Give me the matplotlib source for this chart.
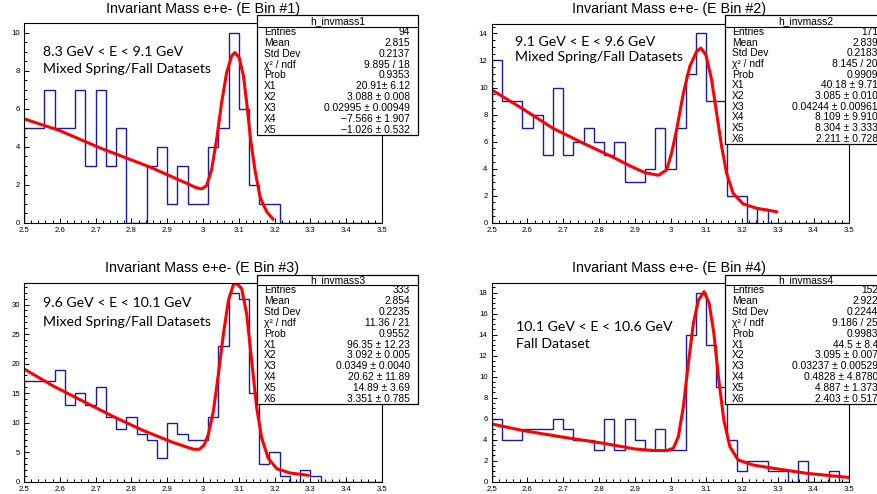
"""
Invariant mass e+e- spectra in four energy bins, ROOT-style panels with fit and stat boxes.
"""

import matplotlib
matplotlib.use("Agg")
import matplotlib.pyplot as plt
from matplotlib.patches import Rectangle
from matplotlib.lines import Line2D
from matplotlib.ticker import MultipleLocator
import numpy as np

W, H = 878, 494

# binning of the histograms (35 bins between 2.5 and 3.5)
bin_lo, bin_hi, n_bins = 2.5, 3.5, 35

titles = ["Invariant Mass e+e- (E Bin #1)", "Invariant Mass e+e- (E Bin #2)",
          "Invariant Mass e+e- (E Bin #3)", "Invariant Mass e+e- (E Bin #4)"]

energy_labels = ["8.3 GeV < E < 9.1 GeV", "9.1 GeV < E < 9.6 GeV",
                 "9.6 GeV < E < 10.1 GeV", "10.1 GeV < E < 10.6 GeV"]
dataset_labels = ["Mixed Spring/Fall Datasets", "Mixed Spring/Fall Datasets",
                  "Mixed Spring/Fall Datasets", "Fall Dataset"]

# bin contents
counts1 = [5, 5, 7, 5, 5, 7, 3, 7, 3, 5, 0, 0, 3, 4, 1, 3, 1, 1, 4, 5, 10, 6, 2, 1, 1,
           0, 0, 0, 0, 0, 0, 0, 0, 0, 0]
counts2 = [12, 9, 9, 7, 8, 5, 10, 5, 6, 7, 6, 5, 6, 3, 3, 4, 7, 4, 7, 11, 14, 9, 9, 2, 2,
           0, 1, 0, 0, 0, 0, 0, 0, 0, 0]
counts3 = [17, 17, 17, 19, 13, 15, 13, 16, 11, 9, 11, 8, 7, 4, 10, 8, 7, 7, 11, 23, 32, 31, 15, 3, 5,
           1, 0, 2, 1, 0, 0, 0, 0, 0, 0]
counts4 = [6, 4, 4, 5, 5, 5, 6, 5, 4, 4, 3, 6, 3, 6, 4, 3, 5, 3, 3, 14, 18, 13, 9, 4, 1,
           2, 2, 1, 1, 0, 2, 0, 0, 1, 0]

# fit curves
fit1_x = [2.5, 2.6, 2.712, 2.852, 2.954, 2.98, 2.996, 3.010, 3.024, 3.038, 3.052, 3.066, 3.080,
          3.089, 3.101, 3.113, 3.122, 3.133, 3.145, 3.159, 3.17, 3.178, 3.196]
fit1_y = [5.47, 4.85, 3.94, 2.93, 2.08, 1.85, 1.78, 1.95, 2.79, 4.38, 6.32, 7.9, 8.78,
          8.96, 8.7, 7.73, 6.32, 4.38, 2.79, 1.38, 0.9, 0.58, 0.18]

fit2_x = [2.5, 2.584, 2.671, 2.756, 2.840, 2.887, 2.929, 2.966, 2.989, 3.003, 3.017, 3.036, 3.054,
          3.073, 3.085, 3.099, 3.115, 3.129, 3.143, 3.157, 3.175, 3.203, 3.241, 3.297]
fit2_y = [9.83, 8.47, 6.99, 5.88, 4.84, 4.2, 3.70, 3.51, 3.90, 5.14, 6.87, 9.59, 11.56,
          12.67, 12.92, 12.42, 10.57, 8.10, 5.63, 3.66, 2.18, 1.39, 1.07, 0.81]

fit3_x = [2.5, 2.582, 2.666, 2.749, 2.833, 2.917, 2.973, 2.990, 3.003, 3.015, 3.029, 3.043, 3.057,
          3.071, 3.085, 3.094, 3.108, 3.122, 3.136, 3.150, 3.164, 3.182, 3.206, 3.243, 3.294]
fit3_y = [19.1, 16.2, 13.6, 11.05, 8.67, 6.63, 5.5, 5.5, 6.2, 8.0, 11.97, 18.2, 25.0,
          30.7, 33.4, 33.6, 32.7, 28.4, 20.5, 12.5, 7.4, 4.0, 2.2, 1.48, 1.08]

fit4_x = [2.5, 2.588, 2.700, 2.812, 2.9, 2.95, 2.989, 3.008, 3.022, 3.036, 3.050, 3.064, 3.078,
          3.094, 3.108, 3.121, 3.135, 3.149, 3.166, 3.189, 3.231, 3.287, 3.381, 3.5]
fit4_y = [5.5, 4.87, 4.24, 3.66, 3.12, 2.98, 2.96, 3.19, 4.3, 7.16, 11.3, 15.1, 17.3,
          18.1, 17.0, 14.2, 9.7, 5.9, 3.34, 2.07, 1.59, 1.28, 0.8, 0.4]

# stat box contents
stat_names = ["h_invmass1", "h_invmass2", "h_invmass3", "h_invmass4"]
stat_labels1 = ["Entries", "Mean", "Std Dev", "χ² / ndf", "Prob", "X1", "X2", "X3", "X4", "X5"]
stat_labels2 = ["Entries", "Mean", "Std Dev", "χ² / ndf", "Prob", "X1", "X2", "X3", "X4", "X5", "X6"]
stat_values1 = ["94", "2.815", "0.2137", "9.895 / 18", "0.9353", "20.91± 6.12", "3.088 ± 0.008",
                "0.02995 ± 0.00949", "\u22127.566 ± 1.907", "\u22121.026 ± 0.532"]
stat_values2 = ["171", "2.839", "0.2183", "8.145 / 20", "0.9909", "40.18 ± 9.71", "3.085 ± 0.010",
                "0.04244 ± 0.00961", "8.109 ± 9.910", "8.304 ± 3.333", "2.211 ± 0.728"]
stat_values3 = ["333", "2.854", "0.2235", "11.36 / 21", "0.9552", "96.35 ± 12.23", "3.092 ± 0.005",
                "0.0349 ± 0.0040", "20.62 ± 11.89", "14.89 ± 3.69", "3.351 ± 0.785"]
stat_values4 = ["152", "2.922", "0.2244", "9.186 / 25", "0.9983", "44.5 ± 8.4", "3.095 ± 0.007",
                "0.03237 ± 0.00529", "0.4828 ± 4.8780", "4.887 ± 1.373", "2.403 ± 0.517"]

HIST_COLOR = "#1a1aa8"
FIT_COLOR = "#ff0000"
SANS = "Liberation Sans"


def fx(px):
    return px / W


def fy(py):
    return 1 - py / H


fig = plt.figure(figsize=(W / 100, H / 100), dpi=100)
fig.patch.set_facecolor("white")

# (left, top, right, bottom) of each frame in pixels
frames = [(24, 23.3, 382, 222.7), (491.7, 24, 849.3, 222.7),
          (24, 283.3, 382, 481.7), (491.7, 283.3, 849.3, 481.7)]
title_pos = [(203, 9), (669, 9), (202, 268), (669, 268)]
text_pos = [(43, 52, 69), (515, 42, 57), (43, 303, 322), (516, 327, 344)]
# stat box: left, top, header line, bottom
stat_boxes = [(257, 15, 26.7, 135), (725, 15, 26.7, 144),
              (257, 275, 285, 404), (725, 275, 285, 404)]
y_steps = [(2, 0.5), (2, 0.5), (5, 1), (2, 0.5)]

all_counts = [counts1, counts2, counts3, counts4]
all_fit = [(fit1_x, fit1_y), (fit2_x, fit2_y), (fit3_x, fit3_y), (fit4_x, fit4_y)]
all_labels = [stat_labels1, stat_labels2, stat_labels2, stat_labels2]
all_values = [stat_values1, stat_values2, stat_values3, stat_values4]

edges = np.linspace(bin_lo, bin_hi, n_bins + 1)

for i in range(4):
    l, t, r, b = frames[i]
    ax = fig.add_axes([fx(l), fy(b), (r - l) / W, (b - t) / H])
    counts = all_counts[i]
    ax.stairs(counts, edges, color=HIST_COLOR, lw=1.0)
    ax.plot(all_fit[i][0], all_fit[i][1], color=FIT_COLOR, lw=2.2,
            solid_joinstyle="round", solid_capstyle="round")
    ax.set_xlim(bin_lo, bin_hi)
    ax.set_ylim(0, 1.05 * max(counts))
    ax.xaxis.set_major_locator(MultipleLocator(0.1))
    ax.xaxis.set_minor_locator(MultipleLocator(0.02))
    ax.yaxis.set_major_locator(MultipleLocator(y_steps[i][0]))
    ax.yaxis.set_minor_locator(MultipleLocator(y_steps[i][1]))
    ax.tick_params(which="both", direction="in", top=False, right=False,
                   width=0.7, labelsize=5.6)
    ax.tick_params(which="major", length=3.6, pad=3)
    ax.tick_params(which="minor", length=1.9)
    ax.xaxis.set_major_formatter(plt.FuncFormatter(lambda v, p: f"{v:g}"))
    for lab in ax.get_xticklabels() + ax.get_yticklabels():
        lab.set_fontfamily(SANS)
    for s in ax.spines.values():
        s.set_linewidth(0.8)

    # title
    tx, ty = title_pos[i]
    fig.text(fx(tx), fy(ty), titles[i], ha="center", va="center",
             fontsize=10.3, family=SANS)

    # energy bin / dataset text
    ax_, y1, y2 = text_pos[i]
    fig.text(fx(ax_), fy(y1), energy_labels[i], ha="left", va="center",
             fontsize=10.2, family="Lato")
    fig.text(fx(ax_), fy(y2), dataset_labels[i], ha="left", va="center",
             fontsize=10.2, family="Lato")

    # stat box with a thin shadow like ROOT
    bl, bt, bh, bb = stat_boxes[i]
    bw = 161
    fig.patches.append(Rectangle((fx(bl + 1), fy(bb + 1)), bw / W, (bb - bt) / H,
                                 transform=fig.transFigure, facecolor="#333333",
                                 edgecolor="none", zorder=4))
    fig.patches.append(Rectangle((fx(bl), fy(bb)), bw / W, (bb - bt) / H,
                                 transform=fig.transFigure, facecolor="white",
                                 edgecolor="black", lw=0.9, zorder=5))
    fig.lines.append(Line2D([fx(bl), fx(bl + bw)], [fy(bh), fy(bh)],
                            transform=fig.transFigure, color="black", lw=0.8, zorder=6))
    fig.text(fx(bl + bw / 2), fy((bt + bh) / 2), stat_names[i], ha="center", va="center",
             fontsize=7.4, family=SANS, zorder=7)
    labels = all_labels[i]
    values = all_values[i]
    row_h = (bb - bh) / len(labels)
    for k in range(len(labels)):
        yy = bh + row_h * (k + 0.5)
        fig.text(fx(bl + 7), fy(yy), labels[k], ha="left", va="center",
                 fontsize=7.4, family=SANS, zorder=7)
        fig.text(fx(bl + bw - 8), fy(yy), values[k], ha="right", va="center",
                 fontsize=7.4, family=SANS, zorder=7)

fig.savefig("out.png", dpi=100)
